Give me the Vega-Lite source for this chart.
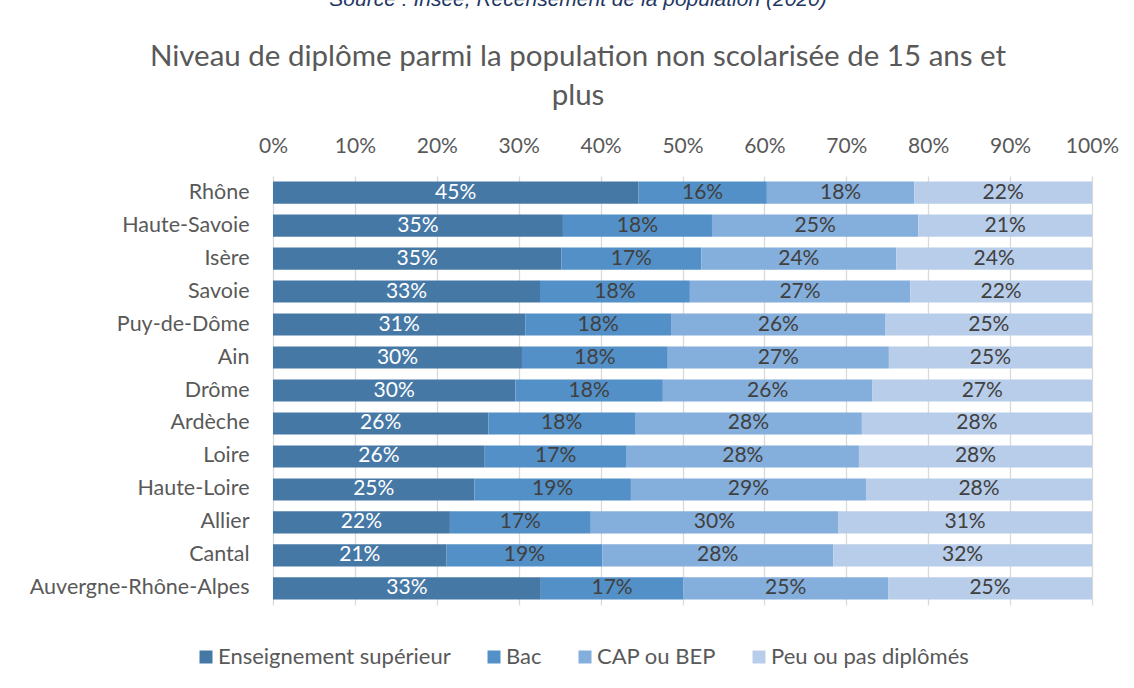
{
  "$schema": "https://vega.github.io/schema/vega-lite/v6.json",
  "autosize": {"type": "none"},
  "padding": {"left": 273, "top": 176, "right": 42, "bottom": 83},
  "width": 819,
  "height": 429,
  "background": "white",
  "config": {"font": "Lato", "view": {"stroke": null}},
  "title": {
    "text": "Source : Insee, Recensement de la population (2020)",
    "subtitle": ["Niveau de diplôme parmi la population non scolarisée de 15 ans et", "plus"],
    "anchor": "middle",
    "frame": "bounds",
    "font": "Liberation Sans",
    "fontStyle": "italic",
    "fontWeight": "normal",
    "fontSize": 21,
    "color": "#1F3864",
    "subtitleFont": "Lato",
    "subtitleFontSize": 29.5,
    "subtitleColor": "#595959",
    "subtitleLineHeight": 39,
    "subtitlePadding": 33,
    "offset": 25,
    "dx": 4
  },
  "data": {
    "values": [
      {"region": "Rhône", "niveau": "Enseignement supérieur", "rang": 1, "part": 0.446},
      {"region": "Rhône", "niveau": "Bac", "rang": 2, "part": 0.157},
      {"region": "Rhône", "niveau": "CAP ou BEP", "rang": 3, "part": 0.180},
      {"region": "Rhône", "niveau": "Peu ou pas diplômés", "rang": 4, "part": 0.217},
      {"region": "Haute-Savoie", "niveau": "Enseignement supérieur", "rang": 1, "part": 0.354},
      {"region": "Haute-Savoie", "niveau": "Bac", "rang": 2, "part": 0.182},
      {"region": "Haute-Savoie", "niveau": "CAP ou BEP", "rang": 3, "part": 0.252},
      {"region": "Haute-Savoie", "niveau": "Peu ou pas diplômés", "rang": 4, "part": 0.212},
      {"region": "Isère", "niveau": "Enseignement supérieur", "rang": 1, "part": 0.352},
      {"region": "Isère", "niveau": "Bac", "rang": 2, "part": 0.171},
      {"region": "Isère", "niveau": "CAP ou BEP", "rang": 3, "part": 0.238},
      {"region": "Isère", "niveau": "Peu ou pas diplômés", "rang": 4, "part": 0.239},
      {"region": "Savoie", "niveau": "Enseignement supérieur", "rang": 1, "part": 0.326},
      {"region": "Savoie", "niveau": "Bac", "rang": 2, "part": 0.183},
      {"region": "Savoie", "niveau": "CAP ou BEP", "rang": 3, "part": 0.269},
      {"region": "Savoie", "niveau": "Peu ou pas diplômés", "rang": 4, "part": 0.222},
      {"region": "Puy-de-Dôme", "niveau": "Enseignement supérieur", "rang": 1, "part": 0.308},
      {"region": "Puy-de-Dôme", "niveau": "Bac", "rang": 2, "part": 0.178},
      {"region": "Puy-de-Dôme", "niveau": "CAP ou BEP", "rang": 3, "part": 0.262},
      {"region": "Puy-de-Dôme", "niveau": "Peu ou pas diplômés", "rang": 4, "part": 0.252},
      {"region": "Ain", "niveau": "Enseignement supérieur", "rang": 1, "part": 0.304},
      {"region": "Ain", "niveau": "Bac", "rang": 2, "part": 0.178},
      {"region": "Ain", "niveau": "CAP ou BEP", "rang": 3, "part": 0.270},
      {"region": "Ain", "niveau": "Peu ou pas diplômés", "rang": 4, "part": 0.248},
      {"region": "Drôme", "niveau": "Enseignement supérieur", "rang": 1, "part": 0.296},
      {"region": "Drôme", "niveau": "Bac", "rang": 2, "part": 0.180},
      {"region": "Drôme", "niveau": "CAP ou BEP", "rang": 3, "part": 0.256},
      {"region": "Drôme", "niveau": "Peu ou pas diplômés", "rang": 4, "part": 0.268},
      {"region": "Ardèche", "niveau": "Enseignement supérieur", "rang": 1, "part": 0.263},
      {"region": "Ardèche", "niveau": "Bac", "rang": 2, "part": 0.179},
      {"region": "Ardèche", "niveau": "CAP ou BEP", "rang": 3, "part": 0.277},
      {"region": "Ardèche", "niveau": "Peu ou pas diplômés", "rang": 4, "part": 0.281},
      {"region": "Loire", "niveau": "Enseignement supérieur", "rang": 1, "part": 0.258},
      {"region": "Loire", "niveau": "Bac", "rang": 2, "part": 0.173},
      {"region": "Loire", "niveau": "CAP ou BEP", "rang": 3, "part": 0.283},
      {"region": "Loire", "niveau": "Peu ou pas diplômés", "rang": 4, "part": 0.284},
      {"region": "Haute-Loire", "niveau": "Enseignement supérieur", "rang": 1, "part": 0.246},
      {"region": "Haute-Loire", "niveau": "Bac", "rang": 2, "part": 0.191},
      {"region": "Haute-Loire", "niveau": "CAP ou BEP", "rang": 3, "part": 0.287},
      {"region": "Haute-Loire", "niveau": "Peu ou pas diplômés", "rang": 4, "part": 0.276},
      {"region": "Allier", "niveau": "Enseignement supérieur", "rang": 1, "part": 0.216},
      {"region": "Allier", "niveau": "Bac", "rang": 2, "part": 0.172},
      {"region": "Allier", "niveau": "CAP ou BEP", "rang": 3, "part": 0.302},
      {"region": "Allier", "niveau": "Peu ou pas diplômés", "rang": 4, "part": 0.310},
      {"region": "Cantal", "niveau": "Enseignement supérieur", "rang": 1, "part": 0.212},
      {"region": "Cantal", "niveau": "Bac", "rang": 2, "part": 0.190},
      {"region": "Cantal", "niveau": "CAP ou BEP", "rang": 3, "part": 0.282},
      {"region": "Cantal", "niveau": "Peu ou pas diplômés", "rang": 4, "part": 0.316},
      {"region": "Auvergne-Rhône-Alpes", "niveau": "Enseignement supérieur", "rang": 1, "part": 0.327},
      {"region": "Auvergne-Rhône-Alpes", "niveau": "Bac", "rang": 2, "part": 0.174},
      {"region": "Auvergne-Rhône-Alpes", "niveau": "CAP ou BEP", "rang": 3, "part": 0.250},
      {"region": "Auvergne-Rhône-Alpes", "niveau": "Peu ou pas diplômés", "rang": 4, "part": 0.249}
    ]
  },
  "encoding": {
    "y": {
      "field": "region",
      "type": "nominal",
      "sort": ["Rhône", "Haute-Savoie", "Isère", "Savoie", "Puy-de-Dôme", "Ain", "Drôme", "Ardèche", "Loire", "Haute-Loire", "Allier", "Cantal", "Auvergne-Rhône-Alpes"],
      "scale": {"paddingInner": 0.33, "paddingOuter": 0.17},
      "axis": {"title": null, "ticks": false, "domain": false, "grid": false, "labelFontSize": 21.5, "labelColor": "#595959", "labelPadding": 24, "labelLimit": 0}
    },
    "x": {
      "field": "part",
      "type": "quantitative",
      "stack": "normalize",
      "scale": {"domain": [0, 1], "nice": false},
      "axis": {
        "orient": "top",
        "title": null,
        "format": ".0%",
        "values": [0, 0.1, 0.2, 0.3, 0.4, 0.5, 0.6, 0.7, 0.8, 0.9, 1],
        "grid": true,
        "gridColor": "#D9D9D9",
        "gridWidth": 1.3,
        "domain": false,
        "ticks": false,
        "labelFontSize": 21,
        "labelColor": "#595959",
        "labelPadding": 20,
        "labelFlush": false
      }
    },
    "order": {"field": "rang", "type": "quantitative"}
  },
  "layer": [
    {
      "mark": {"type": "bar"},
      "encoding": {
        "color": {
          "field": "niveau",
          "type": "nominal",
          "scale": {
            "domain": ["Enseignement supérieur", "Bac", "CAP ou BEP", "Peu ou pas diplômés"],
            "range": ["#4678A6", "#5390C7", "#84AEDB", "#B8CDE9"]
          },
          "legend": {
            "orient": "none",
            "legendX": -78,
            "legendY": 470,
            "direction": "horizontal",
            "title": null,
            "symbolType": "square",
            "symbolSize": 169,
            "symbolStrokeWidth": 0,
            "labelFontSize": 22,
            "labelColor": "#595959",
            "labelOffset": 1,
            "labelLimit": 0,
            "columnPadding": 32
          }
        }
      }
    },
    {
      "mark": {"type": "text", "fontSize": 21},
      "encoding": {
        "x": {"field": "part", "type": "quantitative", "stack": "normalize", "bandPosition": 0.5},
        "detail": {"field": "niveau"},
        "text": {"field": "part", "type": "quantitative", "format": ".0%"},
        "color": {
          "condition": {"test": "datum.niveau === 'Enseignement supérieur'", "value": "white"},
          "value": "#404040"
        }
      }
    }
  ]
}
